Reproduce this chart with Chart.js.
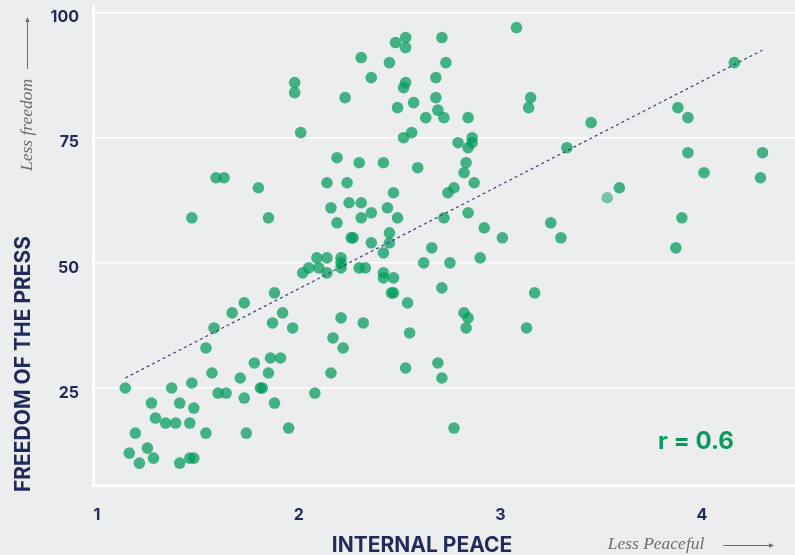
<!DOCTYPE html>
<html>
<head>
<meta charset="utf-8">
<script src="https://cdn.jsdelivr.net/npm/chart.js@4.4.1/dist/chart.umd.min.js"></script>
<style>
  html, body { margin: 0; background: #ecedef; }
  #wrap { width: 795px; height: 555px; }
</style>
</head>
<body>
<div id="wrap"><canvas id="chart" width="795" height="555"></canvas></div>
<script>
// Internal peace score (x) vs freedom of the press score (y), one entry per country
const peaceScores = [
  1.14, 1.16, 1.19, 1.21, 1.25, 1.27, 1.28, 1.29, 1.34, 1.37, 1.39, 1.41, 1.41, 1.46, 1.46, 1.48,
  1.47, 1.48, 1.47, 1.54, 1.54, 1.57, 1.58, 1.59, 1.63, 1.60, 1.64, 1.67, 1.71, 1.73, 1.73, 1.74,
  1.78, 1.80, 1.81, 1.82, 1.85, 1.85, 1.86, 1.87, 1.88, 1.88, 1.91, 1.92, 1.95, 1.97, 1.98, 1.98,
  2.01, 2.02, 2.05, 2.08, 2.09, 2.10, 2.14, 2.14, 2.14, 2.16, 2.16, 2.17, 2.19, 2.19, 2.21, 2.21,
  2.21, 2.21, 2.22, 2.23, 2.24, 2.25, 2.26, 2.27, 2.30, 2.30, 2.33, 2.31, 2.31, 2.31, 2.32, 2.36,
  2.36, 2.36, 2.42, 2.42, 2.42, 2.42, 2.47, 2.44, 2.45, 2.45, 2.45, 2.46, 2.47, 2.47, 2.48, 2.49,
  2.49, 2.52, 2.53, 2.53, 2.53, 2.52, 2.54, 2.53, 2.55, 2.56, 2.57, 2.59, 2.62, 2.63, 2.66, 2.68,
  2.68, 2.69, 2.69, 2.71, 2.71, 2.71, 2.72, 2.72, 2.73, 2.74, 2.75, 2.77, 2.77, 2.79, 2.82, 2.82,
  2.83, 2.83, 2.84, 2.84, 2.84, 2.84, 2.86, 2.86, 2.87, 2.90, 2.92, 3.01, 3.08, 3.13, 3.14, 3.15,
  3.17, 3.25, 3.30, 3.33, 3.45, 3.59, 3.88, 3.93, 3.93, 3.90, 3.87, 4.01, 4.16, 4.29, 4.30
];
const pressScores = [
  25, 12, 16, 10, 13, 22, 11, 19, 18, 25, 18, 10, 22, 18, 11, 11,
  26, 21, 59, 16, 33, 28, 37, 67, 67, 24, 24, 40, 27, 42, 23, 16,
  30, 65, 25, 25, 59, 28, 31, 38, 44, 22, 31, 40, 17, 37, 86, 84,
  76, 48, 49, 24, 51, 49, 66, 51, 48, 61, 28, 35, 71, 58, 39, 51,
  50, 49, 33, 83, 66, 62, 55, 55, 70, 49, 49, 62, 59, 91, 38, 54,
  87, 60, 52, 70, 48, 47, 47, 61, 90, 56, 54, 44, 44, 64, 94, 81,
  59, 85, 86, 93, 95, 75, 42, 29, 36, 76, 82, 69, 50, 79, 53, 87,
  83, 80.5, 30, 95, 45, 27, 79, 59, 90, 64, 50, 65, 17, 74, 40, 68,
  70, 37, 79, 39, 73, 60, 75, 74, 66, 51, 57, 55, 97, 37, 81, 83,
  44, 58, 55, 73, 78, 65, 81, 79, 72, 59, 53, 68, 90, 67, 72
];
// the one paler dot
const palePeace = [3.53];
const palePress = [63];
// dashed trend line end points
const trendPeace = [1.14, 4.30];
const trendPress = [27, 92.5];

const xTicks = [1, 2, 3, 4];
const yTicks = [25, 50, 75, 100];
const corrLabel = 'r = 0.6';

const navy = '#1f2b5b';
const green = 'rgba(0,155,90,0.72)';

const toPoints = (xs, ys) => xs.map((x, i) => ({ x, y: ys[i] }));

// titles, arrows and the r value
const annotations = {
  id: 'annotations',
  afterDraw(chart) {
    const ctx = chart.ctx;
    ctx.save();
    ctx.fillStyle = navy;
    ctx.font = '700 21px Inter';
    ctx.textAlign = 'center';
    ctx.textBaseline = 'alphabetic';
    ctx.fillText('INTERNAL PEACE', 422, 552);
    ctx.save();
    ctx.translate(30, 364);
    ctx.rotate(-Math.PI / 2);
    ctx.fillText('FREEDOM OF THE PRESS', 0, 0);
    ctx.restore();

    ctx.fillStyle = '#6e6e6e';
    ctx.font = 'italic 17.5px "Liberation Serif"';
    ctx.fillText('Less Peaceful', 656, 549);
    ctx.save();
    ctx.translate(32, 125);
    ctx.rotate(-Math.PI / 2);
    ctx.fillText('Less freedom', 0, 0);
    ctx.restore();

    // arrows
    ctx.strokeStyle = '#6e6e6e';
    ctx.fillStyle = '#6e6e6e';
    ctx.lineWidth = 1;
    ctx.beginPath();
    ctx.moveTo(723, 545.5); ctx.lineTo(770, 545.5);
    ctx.moveTo(27.5, 69); ctx.lineTo(27.5, 21);
    ctx.stroke();
    ctx.beginPath();
    ctx.moveTo(774, 545.5); ctx.lineTo(769, 543.3); ctx.lineTo(769, 547.7); ctx.closePath();
    ctx.moveTo(27.5, 17); ctx.lineTo(25.3, 22); ctx.lineTo(29.7, 22); ctx.closePath();
    ctx.fill();

    ctx.fillStyle = '#0a9a5b';
    ctx.font = '700 24px Inter';
    ctx.textAlign = 'left';
    ctx.fillText(corrLabel, 658, 449);
    ctx.restore();
  }
};

new Chart(document.getElementById('chart'), {
  type: 'scatter',
  data: {
    datasets: [
      {
        label: 'Trend',
        data: toPoints(trendPeace, trendPress),
        showLine: true,
        borderColor: '#3a4679',
        borderWidth: 1.2,
        borderDash: [3, 3],
        pointRadius: 0,
        fill: false,
      },
      {
        label: 'Countries',
        data: toPoints(peaceScores, pressScores),
        backgroundColor: green,
        borderWidth: 0,
        pointRadius: 5.8,
      },
      {
        label: 'Pale',
        data: toPoints(palePeace, palePress),
        backgroundColor: 'rgba(0,155,90,0.5)',
        borderWidth: 0,
        pointRadius: 5.8,
      },
    ]
  },
  options: {
    responsive: false, animation: false,
    layout: { autoPadding: false, padding: { top: 6, right: 0, left: 0, bottom: 0 } },
    scales: {
      x: {
        type: 'linear', min: 0.98, max: 4.461,
        afterFit: s => { s.height = 70; s.paddingLeft = 0; s.paddingRight = 0; },
        afterBuildTicks: s => { s.ticks = xTicks.map(v => ({ value: v })); },
        grid: { display: false, drawTicks: false },
        border: { color: '#ffffff', width: 3 },
        ticks: { padding: 21, color: navy, font: { family: 'Inter', size: 16, weight: '700' } },
      },
      y: {
        min: 5.63, max: 101.3,
        afterFit: s => { s.width = 93; s.paddingTop = 0; s.paddingBottom = 0; },
        afterBuildTicks: s => { s.ticks = yTicks.map(v => ({ value: v })); },
        grid: { color: '#ffffff', lineWidth: 1.5, drawTicks: false },
        border: { color: '#ffffff', width: 3 },
        ticks: { padding: 14, labelOffset: 5, color: navy, font: { family: 'Inter', size: 16, weight: '700' } },
      }
    },
    plugins: { legend: { display: false }, tooltip: { enabled: false } }
  },
  plugins: [annotations]
});
</script>
</body>
</html>
